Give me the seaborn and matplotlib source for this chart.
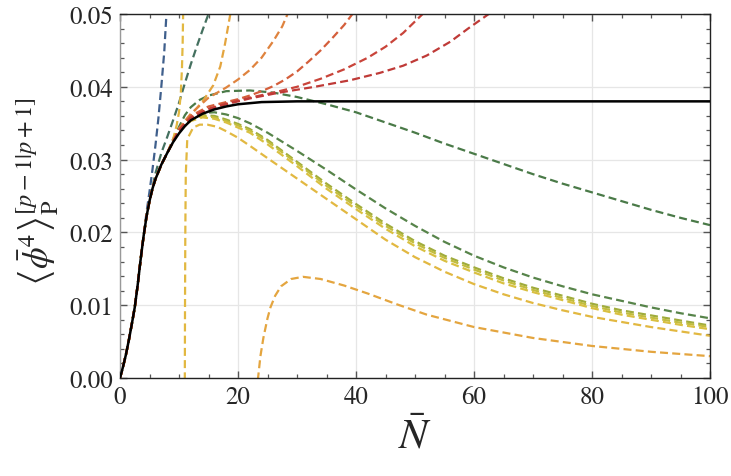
import matplotlib
matplotlib.use("Agg")
import matplotlib.pyplot as plt
import seaborn as sns
from matplotlib.ticker import MultipleLocator

# common start of every curve (all approximants agree with the exact curve here)
head_n = [0, 0.5, 1, 1.5, 2, 2.5, 3, 3.5, 4]
head_y = [0, 0.0015, 0.0032, 0.0052, 0.0074, 0.0097, 0.0128, 0.0163, 0.0195]
mid_n = [4.5, 5, 5.5, 6, 7, 8]
mid_y = [0.0222, 0.0243, 0.026, 0.0273, 0.0293, 0.0309]

# exact result (black)
exact_n = head_n + mid_n + [9, 10, 11, 12, 14, 16, 18, 20, 24, 30, 100]
exact_y = head_y + mid_y + [0.0324, 0.0336, 0.0346, 0.0354, 0.0363, 0.0369, 0.0373,
                            0.0376, 0.0379, 0.038, 0.038]

# Pade approximants, one list pair per order
blue_n = head_n + [4.5, 5, 5.5, 6, 6.5, 7, 7.5, 7.8, 8.0]
blue_y = head_y + [0.0228, 0.0256, 0.0286, 0.0319, 0.0356, 0.040, 0.0448, 0.049, 0.052]

teal_n = head_n + [4.5, 5, 6, 7, 8, 9, 10, 11, 12, 13, 14, 15, 15.5]
teal_y = head_y + [0.0222, 0.0243, 0.0281, 0.0309, 0.0331, 0.0354, 0.0378, 0.0405,
                   0.0431, 0.0455, 0.0478, 0.050, 0.051]

green_top_n = head_n + mid_n + [9, 10, 11, 12, 13.5, 15, 18, 22, 26, 30, 35, 40, 45, 50,
                                55, 60, 65, 70, 75, 80, 85, 90, 95, 100]
green_top_y = head_y + mid_y + [0.0328, 0.0345, 0.0361, 0.0372, 0.0382, 0.0388, 0.0394,
                                0.0395, 0.0392, 0.0386, 0.0376, 0.0365, 0.0351, 0.0337,
                                0.0322, 0.0308, 0.0294, 0.028, 0.0267, 0.0255, 0.0243,
                                0.0231, 0.022, 0.021]

grid_n = [10, 12, 14, 16, 18, 20, 22, 25, 30, 35, 40, 45, 50, 55, 60, 65, 70, 75, 80, 85,
          90, 95, 100]
green_mid_n = head_n + mid_n + grid_n
green_mid_y = head_y + mid_y + [0.0342, 0.0358, 0.0364, 0.0365, 0.0362, 0.0357, 0.035,
                                0.0337, 0.0312, 0.0286, 0.0259, 0.0233, 0.0209, 0.0187,
                                0.0168, 0.0152, 0.0138, 0.0126, 0.0115, 0.0106, 0.0097,
                                0.0089, 0.0082]
olive_n = head_n + mid_n + grid_n
olive_y = head_y + mid_y + [0.0341, 0.0356, 0.0361, 0.036, 0.0355, 0.0349, 0.0342, 0.0327,
                            0.0297, 0.0267, 0.0239, 0.0212, 0.0188, 0.0168, 0.0152,
                            0.0137, 0.0124, 0.0113, 0.0102, 0.0093, 0.0086, 0.0079, 0.0072]
lime_n = head_n + mid_n + grid_n
lime_y = head_y + mid_y + [0.034, 0.0355, 0.036, 0.0358, 0.0353, 0.0347, 0.034, 0.0325,
                           0.0295, 0.0264, 0.0236, 0.0209, 0.0185, 0.0165, 0.0149, 0.0134,
                           0.0121, 0.011, 0.0099, 0.009, 0.0083, 0.0076, 0.007]
yellow_n = head_n + mid_n + grid_n
yellow_y = head_y + mid_y + [0.0339, 0.0353, 0.0358, 0.0356, 0.0351, 0.0344, 0.0337,
                             0.0321, 0.0291, 0.026, 0.0232, 0.0205, 0.0181, 0.0161,
                             0.0145, 0.013, 0.0118, 0.0107, 0.0096, 0.0087, 0.008, 0.0073,
                             0.0067]

# order with a pole near N = 10.8
gold_left_n = head_n + mid_n + [9, 9.6, 10, 10.3, 10.5, 10.62, 10.7, 10.75]
gold_left_y = head_y + mid_y + [0.0328, 0.0347, 0.0365, 0.039, 0.0425, 0.046, 0.050, 0.053]
gold_right_n = [10.98, 11.02, 11.07, 11.15, 11.4, 12.4, 13.5, 14.8, 16.5, 18, 20, 22, 25,
                30, 35, 40, 45, 50, 55, 60, 65, 70, 75, 80, 85, 90, 95, 100]
gold_right_y = [-0.002, 0.01, 0.02, 0.028, 0.0328, 0.0344, 0.0348, 0.0348, 0.0345, 0.0339,
                0.033, 0.0319, 0.0302, 0.0274, 0.0246, 0.0218, 0.019, 0.0166, 0.0146,
                0.0129, 0.0115, 0.0103, 0.0093, 0.0084, 0.0077, 0.007, 0.0064, 0.0058]

# order with a pole near N = 21
amber_left_n = head_n + mid_n + [10, 11, 12.4, 14.1, 15.8, 17, 17.8, 18.7, 19]
amber_left_y = head_y + mid_y + [0.034, 0.035, 0.0365, 0.0381, 0.0402, 0.0428, 0.0459,
                                 0.050, 0.052]
amber_right_n = [23.2, 23.4, 23.8, 24.3, 25, 25.5, 26.3, 27.3, 29, 31, 34, 38, 42, 47, 52,
                 60, 70, 80, 90, 100]
amber_right_y = [-0.002, 0.0, 0.003, 0.0055, 0.0082, 0.0097, 0.0113, 0.0126, 0.0136,
                 0.0139, 0.0136, 0.0127, 0.0116, 0.0101, 0.0087, 0.007, 0.0055, 0.0044,
                 0.0036, 0.003]

orange_n = head_n + mid_n + [10, 12, 15, 18, 20, 22, 24, 26, 27.5, 28.4, 29]
orange_y = head_y + mid_y + [0.0343, 0.0363, 0.0385, 0.0399, 0.041, 0.0423, 0.044, 0.0463,
                             0.0483, 0.050, 0.0515]

redorange_n = head_n + mid_n + [10, 12, 15, 18, 20, 22, 24, 26, 28, 30, 32, 34, 36, 38,
                                39.4, 40]
redorange_y = head_y + mid_y + [0.0341, 0.036, 0.0373, 0.0379, 0.0383, 0.0388, 0.0394,
                                0.0401, 0.041, 0.0421, 0.0435, 0.045, 0.0467, 0.0485,
                                0.050, 0.0507]

red_n = head_n + mid_n + [10, 12, 15, 18, 22, 26, 30, 34, 38, 42, 45, 48, 51.3, 52]
red_y = head_y + mid_y + [0.034, 0.0358, 0.037, 0.0377, 0.0385, 0.0392, 0.040, 0.0411,
                          0.0424, 0.044, 0.0455, 0.0474, 0.050, 0.0507]

darkred_n = head_n + mid_n + [10, 12, 15, 18, 22, 27, 33, 39, 44, 48, 52, 56, 59, 62.5, 63]
darkred_y = head_y + mid_y + [0.034, 0.0357, 0.0369, 0.0376, 0.0384, 0.0392, 0.040, 0.0409,
                              0.0419, 0.0429, 0.0443, 0.0462, 0.048, 0.050, 0.0504]

curves = [
    (blue_n, blue_y, "#3f5f8c"),
    (teal_n, teal_y, "#44705f"),
    (green_top_n, green_top_y, "#4a7a48"),
    (green_mid_n, green_mid_y, "#57844a"),
    (olive_n, olive_y, "#a0ac3c"),
    (lime_n, lime_y, "#c2bd3e"),
    (yellow_n, yellow_y, "#d9c041"),
    (gold_left_n, gold_left_y, "#e2b841"),
    (gold_right_n, gold_right_y, "#e2b841"),
    (amber_left_n, amber_left_y, "#e4a53f"),
    (amber_right_n, amber_right_y, "#e4a53f"),
    (orange_n, orange_y, "#df833e"),
    (redorange_n, redorange_y, "#d45e3b"),
    (red_n, red_y, "#c9443a"),
    (darkred_n, darkred_y, "#bf3a37"),
]

sns.set_style("ticks")
plt.rcParams["font.family"] = ["STIXGeneral", "Liberation Serif", "DejaVu Serif"]
plt.rcParams["mathtext.fontset"] = "stix"

fig = plt.figure(figsize=(7.31, 4.77), dpi=100)
ax = fig.add_axes([120 / 731, 1 - 379 / 477, 590 / 731, 364 / 477])

for n, y, c in curves:
    sns.lineplot(x=n, y=y, ax=ax, color=c, linewidth=1.6, estimator=None, sort=False,
                 linestyle=(0, (3.6, 1.9)))
sns.lineplot(x=exact_n, y=exact_y, ax=ax, color="black", linewidth=1.8, estimator=None,
             sort=False, zorder=5)

ax.set_xlim(0, 100)
ax.set_ylim(0, 0.05)
ax.xaxis.set_major_locator(MultipleLocator(20))
ax.xaxis.set_minor_locator(MultipleLocator(5))
ax.yaxis.set_major_locator(MultipleLocator(0.01))
ax.yaxis.set_minor_locator(MultipleLocator(0.002))
ax.set_yticklabels([f"{v:.2f}" for v in ax.get_yticks()])
ax.grid(True, which="major", color="#e6e6e6", linewidth=0.9)
ax.set_axisbelow(True)
ax.tick_params(which="both", direction="in", top=True, right=True, labelsize=18,
               color="#555555", pad=5)
ax.tick_params(which="major", length=5, width=1)
ax.tick_params(which="minor", length=3.2, width=0.9)
for side in ["top", "right", "bottom"]:
    ax.spines[side].set_color("#222222")
ax.spines["left"].set_color("#999999")
for sp in ax.spines.values():
    sp.set_linewidth(1.0)
ax.set_xlabel("")
ax.set_ylabel("")

fig.text(415 / 731, 1 - 438 / 477, r"$\bar{N}$", fontsize=31, ha="center", va="center")
fig.text(38 / 731, 1 - 192 / 477,
         r"$\left\langle\bar{\phi}^{4}\right\rangle_{\mathrm{P}}^{[p-1|p+1]}$",
         fontsize=25, rotation=90, ha="center", va="center")

fig.savefig("out.png", dpi=100)
